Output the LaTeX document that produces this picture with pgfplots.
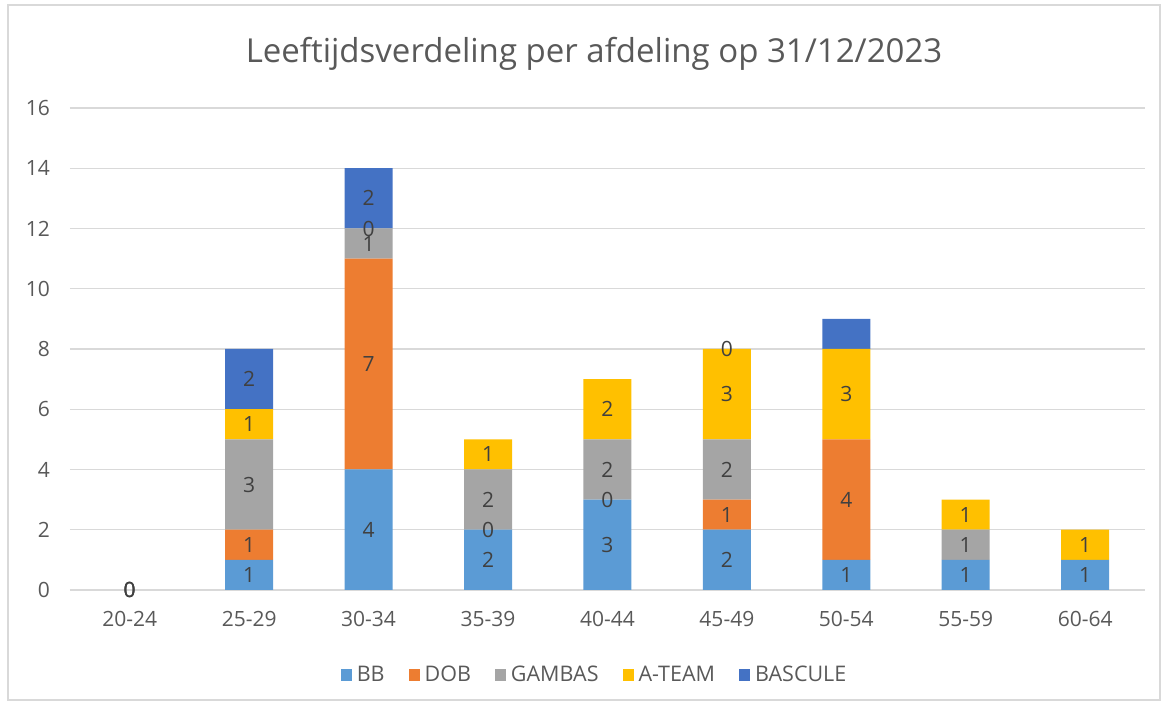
\documentclass[border=0pt]{standalone}
\usepackage{fontspec}
\setmainfont{Open Sans}
\usepackage{pgfplots}
\pgfplotsset{compat=1.18}
\usepackage{pgfplotstable}
\definecolor{bbc}{HTML}{5B9BD5}
\definecolor{dobc}{HTML}{ED7D31}
\definecolor{gambasc}{HTML}{A5A5A5}
\definecolor{ateamc}{HTML}{FFC000}
\definecolor{basculec}{HTML}{4472C4}
\definecolor{gridc}{HTML}{D9D9D9}
\definecolor{textc}{HTML}{595959}
\definecolor{labc}{HTML}{404040}

\pgfplotstableread{
x BB DOB GAMBAS ATEAM BASCULE
0 0 0 0 0 0
1 1 1 3 1 2
2 4 7 1 0 2
3 2 0 2 1 0
4 3 0 2 2 0
5 2 1 2 3 0
6 1 4 0 3 1
7 1 0 1 1 0
8 1 0 0 1 0
}\agedata

\pgfplotstableread{
x y label
0 0 0
0 0 0
0 0 0
1 0.5 1
1 1.5 1
1 3.5 3
1 5.5 1
1 7 2
2 2 4
2 7.5 7
2 11.5 1
2 12 0
2 13 2
3 1 2
3 2 0
3 3 2
3 4.5 1
4 1.5 3
4 3 0
4 4 2
4 6 2
5 1 2
5 2.5 1
5 4 2
5 6.5 3
5 8 0
6 0.5 1
6 3 4
6 6.5 3
7 0.5 1
7 1.5 1
7 2.5 1
8 0.5 1
8 1.5 1
}\labdata

\pgfplotsset{
  commonaxis/.style={
    at={(70pt,119pt)}, anchor=south west,
    scale only axis, width=1075pt, height=482pt,
    xmin=-0.5, xmax=8.5, ymin=0, ymax=16,
  }
}

\begin{document}
\begin{tikzpicture}[x=1pt,y=1pt]
\path[use as bounding box] (0,0) rectangle (1168,709);
\draw[gridc, line width=1.5pt] (8,9) rectangle (1160,704);
\node[font=\fontsize{33}{40}\selectfont, text=textc] at (594,655) {Leeftijdsverdeling per afdeling op 31/12/2023};
\begin{axis}[commonaxis,
  ybar stacked, bar width=48pt,
  ytick={0,2,...,16},
  xtick={0,...,8},
  xticklabels={20-24,25-29,30-34,35-39,40-44,45-49,50-54,55-59,60-64},
  ymajorgrids, grid style={draw=gridc, line width=1.3pt},
  axis line style={draw=none}, major tick length=0pt,
  /pgf/number format/assume math mode=true,
  tick label style={font=\fontsize{21}{25}\selectfont, text=textc, inner sep=0pt},
  yticklabel style={anchor=east, xshift=-20pt},
  xticklabel style={anchor=north, yshift=-21pt},
  legend columns=5,
  legend style={at={(0.488,-0.176)}, anchor=center, draw=none, fill=none,
    font=\fontsize{21.5}{25}\selectfont, text=textc,
    /tikz/every odd column/.append style={column sep=3pt},
    /tikz/every even column/.append style={column sep=22pt}},
  legend image code/.code={\fill[#1] (0pt,-6pt) rectangle (11pt,6pt);},
]
\addplot[fill=bbc, draw=none] table[x=x, y=BB] {\agedata};
\addlegendentry{BB}
\addplot[fill=dobc, draw=none] table[x=x, y=DOB] {\agedata};
\addlegendentry{DOB}
\addplot[fill=gambasc, draw=none] table[x=x, y=GAMBAS] {\agedata};
\addlegendentry{GAMBAS}
\addplot[fill=ateamc, draw=none] table[x=x, y=ATEAM] {\agedata};
\addlegendentry{A-TEAM}
\addplot[fill=basculec, draw=none] table[x=x, y=BASCULE] {\agedata};
\addlegendentry{BASCULE}
\end{axis}
\begin{axis}[commonaxis, hide axis]
\addplot[draw=none, mark=none, nodes near coords, point meta=explicit symbolic,
  every node near coord/.append style={anchor=center, inner sep=0pt,
    font=\fontsize{21}{25}\selectfont, text=labc}]
  table[x=x, y=y, meta=label] {\labdata};
\end{axis}
\end{tikzpicture}
\end{document}
